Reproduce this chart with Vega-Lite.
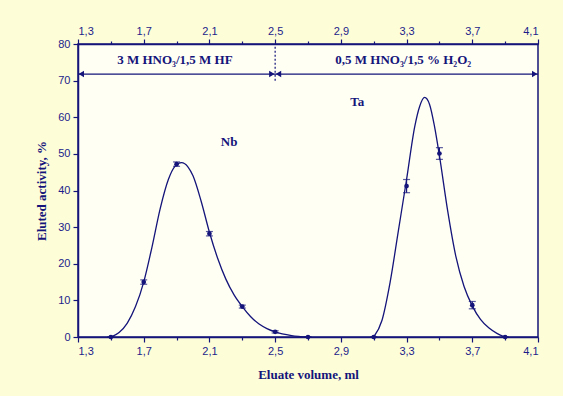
{
  "$schema": "https://vega.github.io/schema/vega-lite/v6.json",
  "width": 460,
  "height": 293,
  "autosize": "none",
  "padding": {"left": 78, "top": 44, "right": 25, "bottom": 59},
  "background": "#FDFDD8",
  "config": {
    "view": {"stroke": "#14147a", "strokeWidth": 1.5, "fill": "#FFFFF4"},
    "axis": {
      "domainColor": "#14147a", "domainWidth": 1.5, "tickColor": "#14147a", "tickWidth": 1.2,
      "labelColor": "#1c1c8a", "labelFont": "Liberation Sans", "labelFontSize": 11,
      "titleColor": "#14147a", "titleFont": "Liberation Serif", "titleFontSize": 13, "titleFontWeight": "bold",
      "grid": false, "labelOverlap": false
    },
    "axisY": {
      "orient": "left", "title": "Eluted activity, %", "titlePadding": 9,
      "values": [0, 5, 10, 15, 20, 25, 30, 35, 40, 45, 50, 55, 60, 65, 70, 75, 80],
      "labelExpr": "datum.value % 10 == 0 ? datum.label : ''",
      "tickSize": {"condition": {"test": "datum.value % 10 == 0", "value": 5}, "value": 3},
      "labelPadding": 3
    }
  },
  "datasets": {
    "points": [
      {"x": 1.5, "y": 0, "lo": 0, "hi": 0, "s": "Nb"},
      {"x": 1.7, "y": 15.0, "lo": 14.4, "hi": 15.6, "s": "Nb"},
      {"x": 1.9, "y": 47.2, "lo": 46.6, "hi": 47.8, "s": "Nb"},
      {"x": 2.1, "y": 28.2, "lo": 27.6, "hi": 28.8, "s": "Nb"},
      {"x": 2.3, "y": 8.3, "lo": 7.9, "hi": 8.7, "s": "Nb"},
      {"x": 2.5, "y": 1.4, "lo": 1.1, "hi": 1.7, "s": "Nb"},
      {"x": 2.7, "y": 0, "lo": 0, "hi": 0, "s": "Nb"},
      {"x": 3.1, "y": 0, "lo": 0, "hi": 0, "s": "Ta"},
      {"x": 3.3, "y": 41.2, "lo": 39.4, "hi": 43.0, "s": "Ta"},
      {"x": 3.5, "y": 50.1, "lo": 48.5, "hi": 51.7, "s": "Ta"},
      {"x": 3.7, "y": 8.7, "lo": 7.7, "hi": 9.7, "s": "Ta"},
      {"x": 3.9, "y": 0, "lo": 0, "hi": 0, "s": "Ta"}
    ],
    "curves": [
      {"x": 1.5, "y": 0, "s": "Nb"},
      {"x": 1.55, "y": 1.2, "s": "Nb"},
      {"x": 1.6, "y": 3.8, "s": "Nb"},
      {"x": 1.65, "y": 8.3, "s": "Nb"},
      {"x": 1.7, "y": 15.0, "s": "Nb"},
      {"x": 1.75, "y": 24.5, "s": "Nb"},
      {"x": 1.8, "y": 35.0, "s": "Nb"},
      {"x": 1.85, "y": 43.0, "s": "Nb"},
      {"x": 1.89, "y": 46.6, "s": "Nb"},
      {"x": 1.93, "y": 47.6, "s": "Nb"},
      {"x": 1.97, "y": 46.4, "s": "Nb"},
      {"x": 2.0, "y": 44.0, "s": "Nb"},
      {"x": 2.05, "y": 37.0, "s": "Nb"},
      {"x": 2.1, "y": 28.6, "s": "Nb"},
      {"x": 2.15, "y": 21.5, "s": "Nb"},
      {"x": 2.2, "y": 15.8, "s": "Nb"},
      {"x": 2.25, "y": 11.5, "s": "Nb"},
      {"x": 2.3, "y": 8.3, "s": "Nb"},
      {"x": 2.35, "y": 5.6, "s": "Nb"},
      {"x": 2.4, "y": 3.6, "s": "Nb"},
      {"x": 2.45, "y": 2.3, "s": "Nb"},
      {"x": 2.5, "y": 1.4, "s": "Nb"},
      {"x": 2.6, "y": 0.4, "s": "Nb"},
      {"x": 2.7, "y": 0, "s": "Nb"},
      {"x": 3.1, "y": 0, "s": "Ta"},
      {"x": 3.15, "y": 4.5, "s": "Ta"},
      {"x": 3.2, "y": 15.0, "s": "Ta"},
      {"x": 3.25, "y": 29.0, "s": "Ta"},
      {"x": 3.3, "y": 43.0, "s": "Ta"},
      {"x": 3.35, "y": 57.5, "s": "Ta"},
      {"x": 3.38, "y": 63.0, "s": "Ta"},
      {"x": 3.41, "y": 65.4, "s": "Ta"},
      {"x": 3.44, "y": 63.5, "s": "Ta"},
      {"x": 3.47, "y": 57.5, "s": "Ta"},
      {"x": 3.5, "y": 49.5, "s": "Ta"},
      {"x": 3.55, "y": 34.5, "s": "Ta"},
      {"x": 3.6, "y": 22.0, "s": "Ta"},
      {"x": 3.65, "y": 13.8, "s": "Ta"},
      {"x": 3.7, "y": 8.5, "s": "Ta"},
      {"x": 3.75, "y": 4.8, "s": "Ta"},
      {"x": 3.8, "y": 2.5, "s": "Ta"},
      {"x": 3.85, "y": 1.0, "s": "Ta"},
      {"x": 3.9, "y": 0, "s": "Ta"}
    ],
    "arrows": [
      {"x": 1.3, "x2": 4.1, "y": 71.8}
    ],
    "heads": [
      {"x": 1.32, "y": 71.8, "dir": "L"},
      {"x": 2.48, "y": 71.8, "dir": "R"},
      {"x": 2.52, "y": 71.8, "dir": "L"},
      {"x": 4.08, "y": 71.8, "dir": "R"}
    ],
    "divider": [
      {"x": 2.5, "y": 70, "y2": 80}
    ],
    "labels": [
      {"x": 1.89, "y": 75.6, "t": "3 M HNO₃/1,5 M HF"},
      {"x": 3.28, "y": 75.6, "t": "0,5 M HNO₃/1,5 % H₂O₂"},
      {"x": 2.22, "y": 53.2, "t": "Nb"},
      {"x": 3.0, "y": 64.2, "t": "Ta"}
    ]
  },
  "layer": [
    {
      "data": {"name": "curves"},
      "mark": {"type": "line", "interpolate": "monotone", "color": "#14147a", "strokeWidth": 1.3, "clip": true},
      "encoding": {
        "x": {
          "field": "x", "type": "quantitative",
          "scale": {"domain": [1.3, 4.1], "nice": false, "zero": false},
          "axis": {
            "orient": "bottom", "title": "Eluate volume, ml", "titlePadding": 12,
            "values": [1.3, 1.5, 1.7, 1.9, 2.1, 2.3, 2.5, 2.7, 2.9, 3.1, 3.3, 3.5, 3.7, 3.9, 4.1],
            "labelExpr": "round((datum.value-1.3)/0.2) % 2 == 0 ? replace(format(datum.value, '.1f'), '.', ',') : ''",
            "tickSize": {"condition": {"test": "round((datum.value-1.3)/0.2) % 2 == 0", "value": 5}, "value": 3},
            "labelPadding": 3
          }
        },
        "y": {
          "field": "y", "type": "quantitative",
          "scale": {"domain": [0, 80], "nice": false},
          "title": "Eluted activity, %"
        },
        "detail": {"field": "s"}
      }
    },
    {
      "data": {"name": "points"},
      "mark": {"type": "rule", "color": "#14147a", "strokeWidth": 1.2},
      "encoding": {
        "x": {
          "field": "x", "type": "quantitative",
          "axis": {
            "orient": "top", "title": null,
            "values": [1.3, 1.5, 1.7, 1.9, 2.1, 2.3, 2.5, 2.7, 2.9, 3.1, 3.3, 3.5, 3.7, 3.9, 4.1],
            "labelExpr": "round((datum.value-1.3)/0.2) % 2 == 0 ? replace(format(datum.value, '.1f'), '.', ',') : ''",
            "tickSize": {"condition": {"test": "round((datum.value-1.3)/0.2) % 2 == 0", "value": 5}, "value": 3},
            "labelPadding": 3
          }
        },
        "y": {"field": "lo", "type": "quantitative", "title": "Eluted activity, %"},
        "y2": {"field": "hi"}
      }
    },
    {
      "data": {"name": "points"},
      "mark": {"type": "tick", "orient": "horizontal", "color": "#14147a", "size": 7, "thickness": 1.2},
      "encoding": {
        "x": {"field": "x", "type": "quantitative", "axis": null},
        "y": {"field": "lo", "type": "quantitative", "title": "Eluted activity, %"}
      }
    },
    {
      "data": {"name": "points"},
      "mark": {"type": "tick", "orient": "horizontal", "color": "#14147a", "size": 7, "thickness": 1.2},
      "encoding": {
        "x": {"field": "x", "type": "quantitative", "axis": null},
        "y": {"field": "hi", "type": "quantitative", "title": "Eluted activity, %"}
      }
    },
    {
      "data": {"name": "points"},
      "mark": {"type": "point", "filled": true, "shape": "circle", "color": "#14147a", "size": 22, "opacity": 1},
      "encoding": {
        "x": {"field": "x", "type": "quantitative", "axis": null},
        "y": {"field": "y", "type": "quantitative", "title": "Eluted activity, %"}
      }
    },
    {
      "data": {"name": "arrows"},
      "mark": {"type": "rule", "color": "#14147a", "strokeWidth": 1.3},
      "encoding": {
        "x": {"field": "x", "type": "quantitative", "axis": null},
        "x2": {"field": "x2"},
        "y": {"field": "y", "type": "quantitative", "title": "Eluted activity, %"}
      }
    },
    {
      "data": {"name": "heads"},
      "mark": {"type": "point", "filled": true, "color": "#14147a", "size": 40, "opacity": 1},
      "encoding": {
        "x": {"field": "x", "type": "quantitative", "axis": null},
        "y": {"field": "y", "type": "quantitative", "title": "Eluted activity, %"},
        "shape": {
          "field": "dir", "type": "nominal",
          "scale": {"domain": ["L", "R"], "range": ["triangle-left", "triangle-right"]},
          "legend": null
        }
      }
    },
    {
      "data": {"name": "divider"},
      "mark": {"type": "rule", "color": "#14147a", "strokeWidth": 1.2, "strokeDash": [2, 2]},
      "encoding": {
        "x": {"field": "x", "type": "quantitative", "axis": null},
        "y": {"field": "y", "type": "quantitative", "title": "Eluted activity, %"},
        "y2": {"field": "y2"}
      }
    },
    {
      "data": {"name": "labels"},
      "mark": {"type": "text", "font": "Liberation Serif", "fontWeight": "bold", "fontSize": 13, "color": "#14147a", "align": "center", "baseline": "middle"},
      "encoding": {
        "x": {"field": "x", "type": "quantitative", "axis": null},
        "y": {"field": "y", "type": "quantitative", "title": "Eluted activity, %"},
        "text": {"field": "t"}
      }
    }
  ]
}
